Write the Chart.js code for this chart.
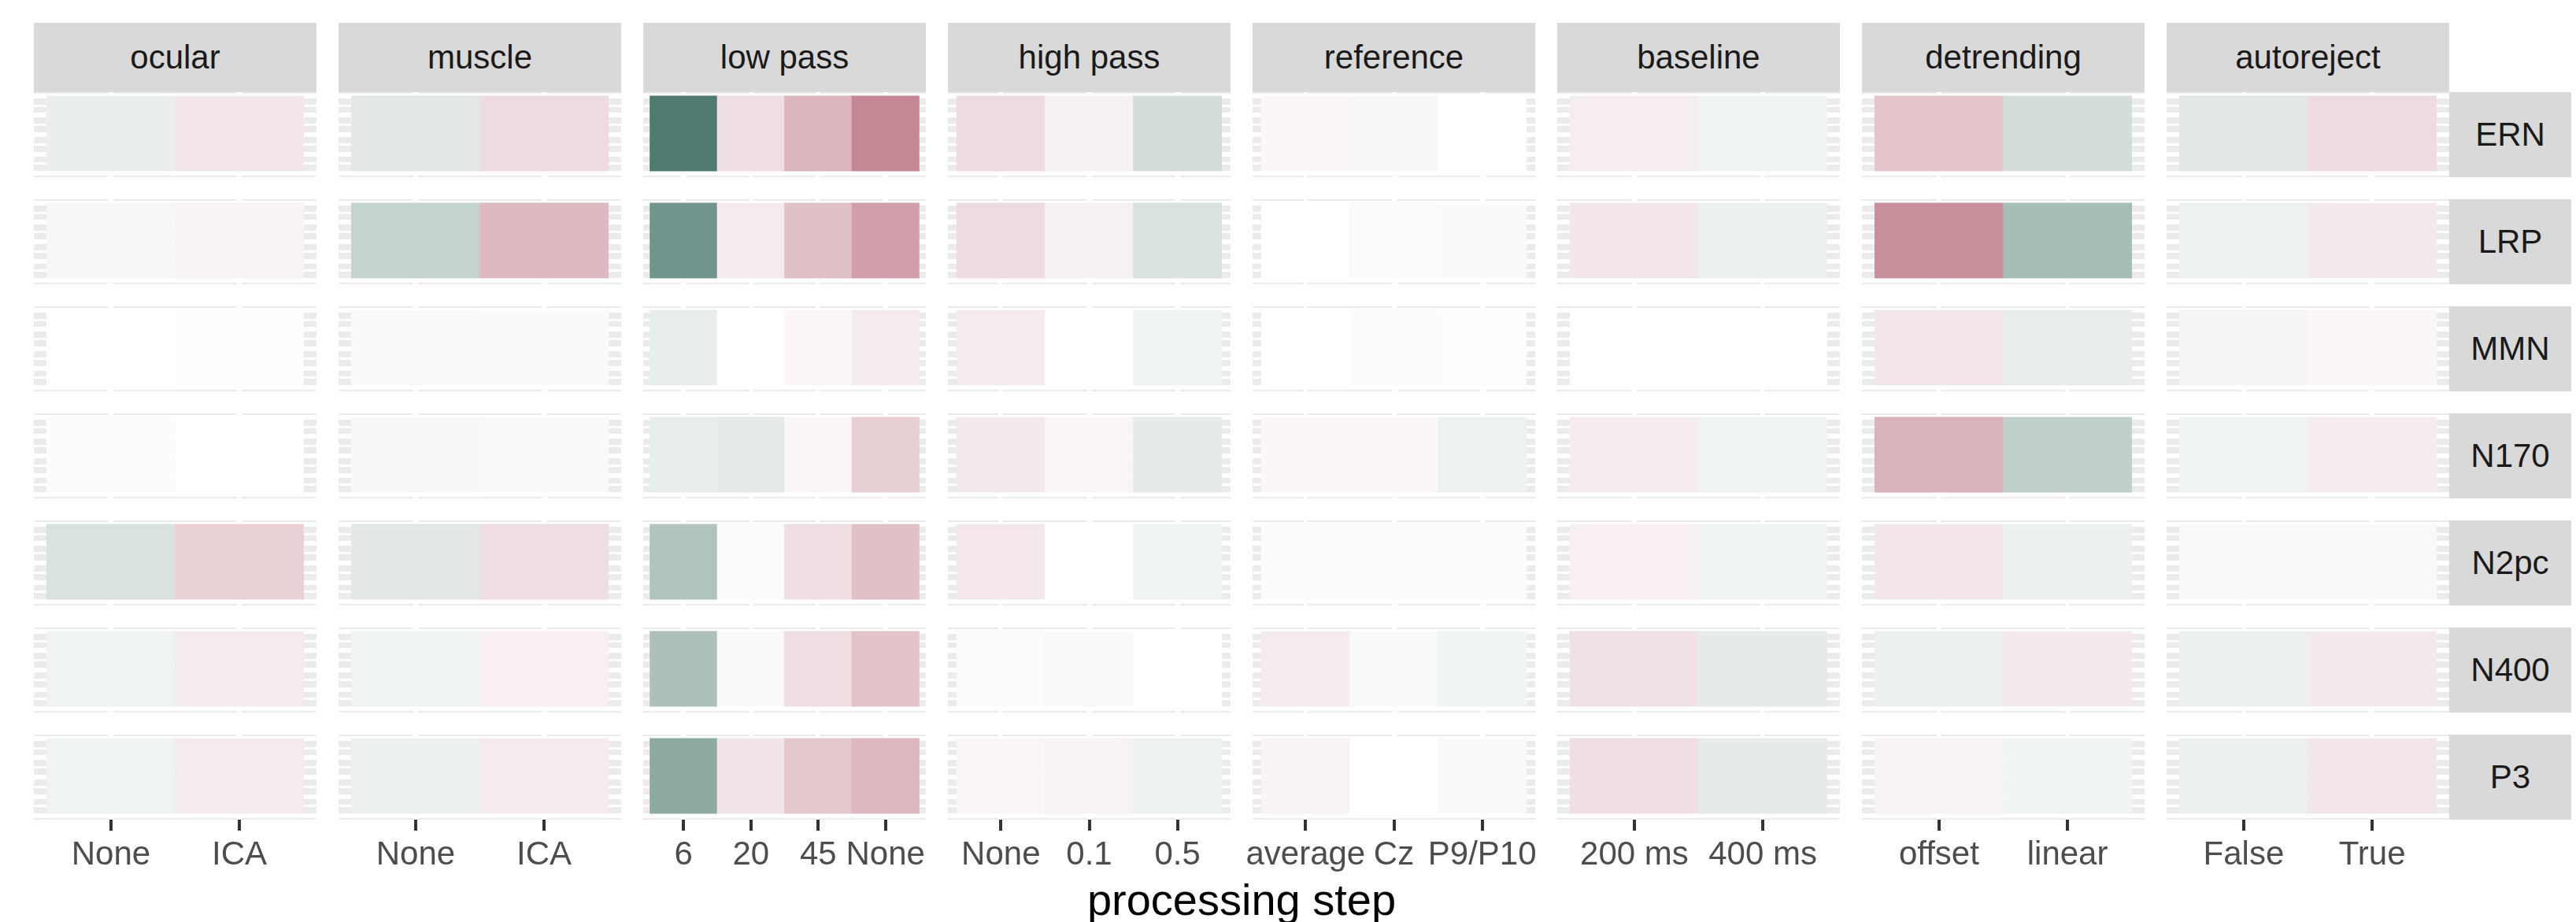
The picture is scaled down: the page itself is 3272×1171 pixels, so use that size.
<!DOCTYPE html>
<html lang="en">
<head>
    <meta charset="UTF-8">
    <title>processing step</title>
    <style>
        body {
            margin: 0;
            background: #fff;
            width: 3272px;
            height: 1171px;
            position: relative;
            overflow: hidden;
            font-family: "Liberation Sans", Arial, sans-serif;
        }

        .strip {
            position: absolute;
            background: #D9D9D9;
            color: #1A1A1A;
            font-size: 42px;
            display: flex;
            align-items: center;
            justify-content: center;
        }

        canvas {
            position: absolute;
        }

        #xtitle {
            position: absolute;
            left: 43px;
            width: 3068px;
            top: 1115px;
            font-size: 56px;
            line-height: 56px;
            text-align: center;
            color: #000;
        }
    </style>
</head>
<body>
    <div id="plot"></div>
    <div id="xtitle">processing step</div>

    <script src="https://cdn.jsdelivr.net/npm/chart.js"></script>
    <script>
        // rows (right strips) and columns (top strips)
        const rowLabels = ['ERN', 'LRP', 'MMN', 'N170', 'N2pc', 'N400', 'P3'];
        const stepNames = ['ocular', 'muscle', 'low pass', 'high pass', 'reference', 'baseline', 'detrending', 'autoreject'];

        // levels of each processing step (x tick labels)
        const ocularLevels = ['None', 'ICA'];
        const muscleLevels = ['None', 'ICA'];
        const lowPassLevels = ['6', '20', '45', 'None'];
        const highPassLevels = ['None', '0.1', '0.5'];
        const referenceLevels = ['average', 'Cz', 'P9/P10'];
        const baselineLevels = ['200 ms', '400 ms'];
        const detrendingLevels = ['offset', 'linear'];
        const autorejectLevels = ['False', 'True'];

        // estimated effect per level, one inner array per row (ERN ... P3)
        // negative = teal, positive = pink
        const ocularVals = [[-0.12, 0.2], [-0.05, 0.1], [0, 0.01], [-0.02, 0], [-0.22, 0.38], [-0.09, 0.17], [-0.09, 0.17]];
        const muscleVals = [[-0.17, 0.3], [-0.33, 0.58], [-0.04, 0.05], [-0.05, 0.06], [-0.17, 0.28], [-0.09, 0.13], [-0.11, 0.17]];
        const lowPassVals = [[-1, 0.27, 0.62, 1], [-0.8, 0.17, 0.52, 0.8], [-0.13, 0, 0.07, 0.17], [-0.13, -0.16, 0.08, 0.4],
                             [-0.45, 0.04, 0.27, 0.52], [-0.47, 0.06, 0.27, 0.5], [-0.65, 0.22, 0.46, 0.6]];
        const highPassVals = [[0.3, 0.12, -0.25], [0.3, 0.12, -0.22], [0.17, 0, -0.09], [0.18, 0.08, -0.15],
                              [0.19, 0, -0.09], [0.04, -0.04, 0], [0.08, 0.11, -0.1]];
        const referenceVals = [[0.07, -0.05, 0], [0, -0.03, 0.05], [0, -0.02, 0.02], [0.07, 0.07, -0.1],
                               [0.04, -0.02, -0.02], [0.17, -0.04, -0.08], [0.1, 0, -0.04]];
        const baselineVals = [[0.15, -0.08], [0.2, -0.11], [0, 0], [0.16, -0.09], [0.13, -0.08], [0.25, -0.15], [0.27, -0.15]];
        const detrendingVals = [[0.48, -0.25], [0.93, -0.5], [0.2, -0.13], [0.64, -0.35], [0.2, -0.11], [-0.11, 0.18], [0.1, -0.08]];
        const autorejectVals = [[-0.17, 0.3], [-0.1, 0.18], [-0.07, 0.07], [-0.09, 0.16], [-0.04, 0.06], [-0.11, 0.18], [-0.11, 0.21]];

        const steps = [
            { levels: ocularLevels, vals: ocularVals },
            { levels: muscleLevels, vals: muscleVals },
            { levels: lowPassLevels, vals: lowPassVals },
            { levels: highPassLevels, vals: highPassVals },
            { levels: referenceLevels, vals: referenceVals },
            { levels: baselineLevels, vals: baselineVals },
            { levels: detrendingLevels, vals: detrendingVals },
            { levels: autorejectLevels, vals: autorejectVals }
        ];

        // layout
        const PANEL_X0 = 43, PANEL_DX = 387, PANEL_W = 359;
        const PANEL_Y0 = 117, PANEL_DY = 136, PANEL_H = 108;
        const STRIP_TOP = 29, STRIP_H = 88, STRIP_W = 155;
        const AXIS_H = 14 + 6 * 2 + 50;
        const PAD = 70;
        const Y_GRID = [0, 0.125, 0.25, 0.375, 0.5, 0.625, 0.75, 0.875, 1];

        const TEAL = [78, 122, 112];
        const PINK = [196, 135, 147];

        function tileColor(v) {
            const end = v < 0 ? TEAL : PINK;
            const t = Math.min(Math.abs(v), 1);
            const c = end.map(e => Math.round(255 + (e - 255) * t));
            return 'rgb(' + c.join(',') + ')';
        }

        const panelBackground = {
            id: 'panelBackground',
            beforeDraw(chart) {
                const { ctx, chartArea: a } = chart;
                ctx.save();
                ctx.fillStyle = '#EBEBEB';
                ctx.fillRect(a.left, a.top, a.width, a.height);
                ctx.restore();
            }
        };

        Chart.defaults.font.family = '"Liberation Sans", Arial, sans-serif';

        const plot = document.getElementById('plot');

        function addStrip(text, left, top, width, height) {
            const d = document.createElement('div');
            d.className = 'strip';
            d.textContent = text;
            d.style.left = left + 'px';
            d.style.top = top + 'px';
            d.style.width = width + 'px';
            d.style.height = height + 'px';
            plot.appendChild(d);
        }

        steps.forEach((step, c) => {
            const x = PANEL_X0 + c * PANEL_DX;
            addStrip(stepNames[c], x, STRIP_TOP, PANEL_W, STRIP_H);
            const n = step.levels.length;

            rowLabels.forEach((row, r) => {
                const y = PANEL_Y0 + r * PANEL_DY;
                const bottom = r === rowLabels.length - 1;
                const canvas = document.createElement('canvas');
                canvas.width = PANEL_W + 2 * PAD;
                canvas.height = PANEL_H + (bottom ? AXIS_H : 0);
                canvas.style.left = (x - PAD) + 'px';
                canvas.style.top = y + 'px';
                plot.appendChild(canvas);

                const rowVals = step.vals[r];
                new Chart(canvas, {
                    type: 'bar',
                    data: {
                        datasets: [{
                            data: rowVals.map((v, i) => ({ x: i + 1, y: [0, 1] })),
                            backgroundColor: rowVals.map(tileColor),
                            borderWidth: 0,
                            borderSkipped: false,
                            categoryPercentage: 1,
                            barPercentage: 1
                        }]
                    },
                    options: {
                        responsive: false,
                        devicePixelRatio: 1,
                        animation: false,
                        layout: { padding: { left: PAD, right: PAD, top: 0, bottom: 0 } },
                        plugins: {
                            legend: { display: false },
                            tooltip: { enabled: false }
                        },
                        scales: {
                            x: {
                                type: 'linear',
                                min: 0.4,
                                max: n + 0.6,
                                offset: false,
                                afterBuildTicks: s => { s.ticks = step.levels.map((_, i) => ({ value: i + 1 })); },
                                afterFit: s => { s.height = bottom ? AXIS_H : 0; },
                                grid: {
                                    offset: false,
                                    color: '#FFFFFF',
                                    lineWidth: 6,
                                    drawTicks: bottom,
                                    tickLength: 14,
                                    tickColor: '#333333',
                                    tickWidth: 4
                                },
                                border: { display: false },
                                ticks: {
                                    display: bottom,
                                    autoSkip: false,
                                    maxRotation: 0,
                                    minRotation: 0,
                                    padding: 6,
                                    color: '#4D4D4D',
                                    font: { size: 42, lineHeight: '50px' },
                                    callback: v => step.levels[Math.round(v) - 1]
                                }
                            },
                            y: {
                                type: 'linear',
                                min: -0.05,
                                max: 1.05,
                                afterBuildTicks: s => { s.ticks = Y_GRID.map(v => ({ value: v })); },
                                afterFit: s => { s.width = 0; },
                                grid: {
                                    color: '#FFFFFF',
                                    lineWidth: ctx => (ctx.index % 2 === 0 ? 6 : 3),
                                    drawTicks: false
                                },
                                border: { display: false },
                                ticks: { display: false }
                            }
                        }
                    },
                    plugins: [panelBackground]
                });

                if (c === steps.length - 1) {
                    addStrip(row, x + PANEL_W, y, STRIP_W, PANEL_H);
                }
            });
        });
    </script>
</body>
</html>
